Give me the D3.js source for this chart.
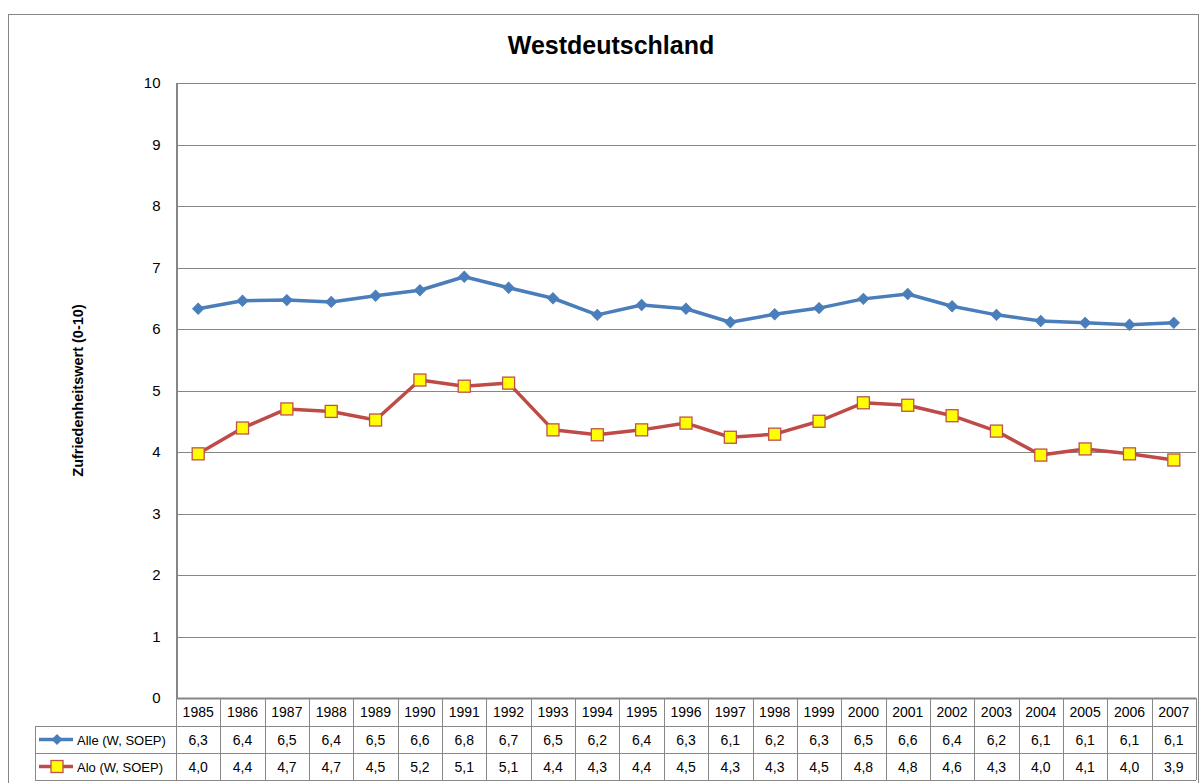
<!DOCTYPE html>
<html><head><meta charset="utf-8">
<script src="https://cdn.jsdelivr.net/npm/d3@7"></script>
<style>body{margin:0;background:#fff;} svg{display:block;font-family:"Liberation Sans",Arial,sans-serif;}</style>
</head><body>
<script>
const years = [1985,1986,1987,1988,1989,1990,1991,1992,1993,1994,1995,1996,1997,1998,1999,2000,2001,2002,2003,2004,2005,2006,2007];
const alle = [6.33,6.46,6.47,6.44,6.54,6.63,6.85,6.67,6.50,6.23,6.39,6.33,6.11,6.24,6.34,6.49,6.57,6.37,6.23,6.13,6.10,6.07,6.10];
const alo  = [3.97,4.39,4.70,4.66,4.52,5.17,5.07,5.12,4.36,4.28,4.36,4.47,4.24,4.29,4.50,4.80,4.76,4.59,4.34,3.95,4.05,3.97,3.87];
const alleLabels = ["6,3","6,4","6,5","6,4","6,5","6,6","6,8","6,7","6,5","6,2","6,4","6,3","6,1","6,2","6,3","6,5","6,6","6,4","6,2","6,1","6,1","6,1","6,1"];
const aloLabels  = ["4,0","4,4","4,7","4,7","4,5","5,2","5,1","5,1","4,4","4,3","4,4","4,5","4,3","4,3","4,5","4,8","4,8","4,6","4,3","4,0","4,1","4,0","3,9"];
const yTicks = [0,1,2,3,4,5,6,7,8,9,10];
const seriesNames = ["Alle (W, SOEP)","Alo (W, SOEP)"];
const title = "Westdeutschland";
const yTitle = "Zufriedenheitswert (0-10)";

const W = 1200, H = 783;
const svg = d3.select("body").append("svg").attr("width", W).attr("height", H);
const plot = {left:176, right:1196, top:83, bottom:698};
const gridColor = "#868686";
const blue = "#4a7ebb", red = "#be4b48";

// outer border
svg.append("rect").attr("x",8.5).attr("y",14.5).attr("width",1190).attr("height",790)
  .attr("fill","none").attr("stroke",gridColor).attr("stroke-width",1);

const x = d3.scaleBand().domain(years).range([plot.left, plot.right]).padding(0);
const y = d3.scaleLinear().domain([0,10]).range([plot.bottom, plot.top]);

// grid
svg.append("g").selectAll("line").data(yTicks.filter(d=>d>0)).join("line")
  .attr("x1",plot.left).attr("x2",plot.right)
  .attr("y1",d=>Math.round(y(d))+0.5).attr("y2",d=>Math.round(y(d))+0.5)
  .attr("stroke",gridColor).attr("stroke-width",1);

// y axis
const yAxis = d3.axisLeft(y).tickValues(yTicks).tickSize(0).tickPadding(16).tickFormat(d3.format("d"));
const ga = svg.append("g").attr("transform",`translate(${plot.left+0.5},0)`).call(yAxis);
ga.select(".domain").attr("stroke",gridColor).attr("stroke-width",2);
ga.selectAll("text").attr("font-size",15).attr("fill","#000").attr("font-family","Liberation Sans, Arial, sans-serif");

// title
svg.append("text").attr("x",611).attr("y",54).attr("text-anchor","middle")
  .attr("font-size",25).attr("font-weight","bold").text(title);

// y title
svg.append("text").attr("transform",`translate(83,${(plot.top+plot.bottom)/2}) rotate(-90)`)
  .attr("text-anchor","middle").attr("font-size",14.5).attr("font-weight","bold").text(yTitle);

// lines
const cx = d => x(d) + x.bandwidth()/2;
const line = d3.line().x((d,i)=>cx(years[i])).y(d=>y(d));
svg.append("path").datum(alle).attr("d",line).attr("fill","none").attr("stroke",blue).attr("stroke-width",3.5).attr("stroke-linejoin","round");
svg.append("path").datum(alo).attr("d",line).attr("fill","none").attr("stroke",red).attr("stroke-width",3.5).attr("stroke-linejoin","round");

const diamond = d3.symbol().type(d3.symbolSquare).size(60);
svg.append("g").selectAll("path").data(alle).join("path")
  .attr("d",diamond()).attr("transform",(d,i)=>`translate(${cx(years[i])},${y(d)}) rotate(45)`)
  .attr("fill",blue).attr("stroke",blue).attr("stroke-width",1);
svg.append("g").selectAll("rect").data(alo).join("rect")
  .attr("x",(d,i)=>cx(years[i])-6).attr("y",d=>y(d)-6).attr("width",12).attr("height",12)
  .attr("fill","#ffff00").attr("stroke","#c0504d").attr("stroke-width",1.3);

// data table
const rows = [698, 726, 753, 780];
const tcol = "#888";
const tg = svg.append("g");
tg.append("line").attr("x1",35).attr("x2",plot.right).attr("y1",rows[1]+0.5).attr("y2",rows[1]+0.5).attr("stroke",tcol);
tg.append("line").attr("x1",35).attr("x2",plot.right).attr("y1",rows[2]+0.5).attr("y2",rows[2]+0.5).attr("stroke",tcol);
tg.append("line").attr("x1",35).attr("x2",plot.right).attr("y1",rows[3]+0.5).attr("y2",rows[3]+0.5).attr("stroke",tcol);
const vx = years.map(d=>x(d)).concat([plot.right]);
tg.selectAll("line.v").data(vx).join("line").attr("class","v")
  .attr("x1",d=>Math.round(d)+0.5).attr("x2",d=>Math.round(d)+0.5)
  .attr("y1",rows[0]).attr("y2",rows[3]).attr("stroke",tcol);
tg.append("line").attr("x1",35.5).attr("x2",35.5).attr("y1",rows[1]).attr("y2",rows[3]).attr("stroke",tcol);
svg.append("line").attr("x1",plot.left).attr("x2",plot.right).attr("y1",plot.bottom+0.5).attr("y2",plot.bottom+0.5).attr("stroke",gridColor).attr("stroke-width",2);

const fs = 14;
tg.selectAll("text.yr").data(years).join("text").attr("class","yr")
  .attr("x",d=>cx(d)).attr("y",(rows[0]+rows[1])/2+5).attr("text-anchor","middle").attr("font-size",fs).text(d=>d);
tg.selectAll("text.a").data(alleLabels).join("text").attr("class","a")
  .attr("x",(d,i)=>cx(years[i])).attr("y",(rows[1]+rows[2])/2+5).attr("text-anchor","middle").attr("font-size",fs).text(d=>d);
tg.selectAll("text.b").data(aloLabels).join("text").attr("class","b")
  .attr("x",(d,i)=>cx(years[i])).attr("y",(rows[2]+rows[3])/2+5).attr("text-anchor","middle").attr("font-size",fs).text(d=>d);

const ly1 = (rows[1]+rows[2])/2, ly2 = (rows[2]+rows[3])/2;
tg.append("line").attr("x1",39).attr("x2",73).attr("y1",ly1).attr("y2",ly1).attr("stroke",blue).attr("stroke-width",3.5);
tg.append("path").attr("d",diamond()).attr("transform",`translate(57,${ly1}) rotate(45)`).attr("fill",blue);
tg.append("line").attr("x1",39).attr("x2",73).attr("y1",ly2).attr("y2",ly2).attr("stroke",red).attr("stroke-width",3.5);
tg.append("rect").attr("x",51).attr("y",ly2-6).attr("width",12).attr("height",12).attr("fill","#ffff00").attr("stroke","#c0504d").attr("stroke-width",1.3);
tg.append("text").attr("x",77).attr("y",ly1+5).attr("font-size",13).text(seriesNames[0]);
tg.append("text").attr("x",77).attr("y",ly2+5).attr("font-size",13).text(seriesNames[1]);
</script>
</body></html>
